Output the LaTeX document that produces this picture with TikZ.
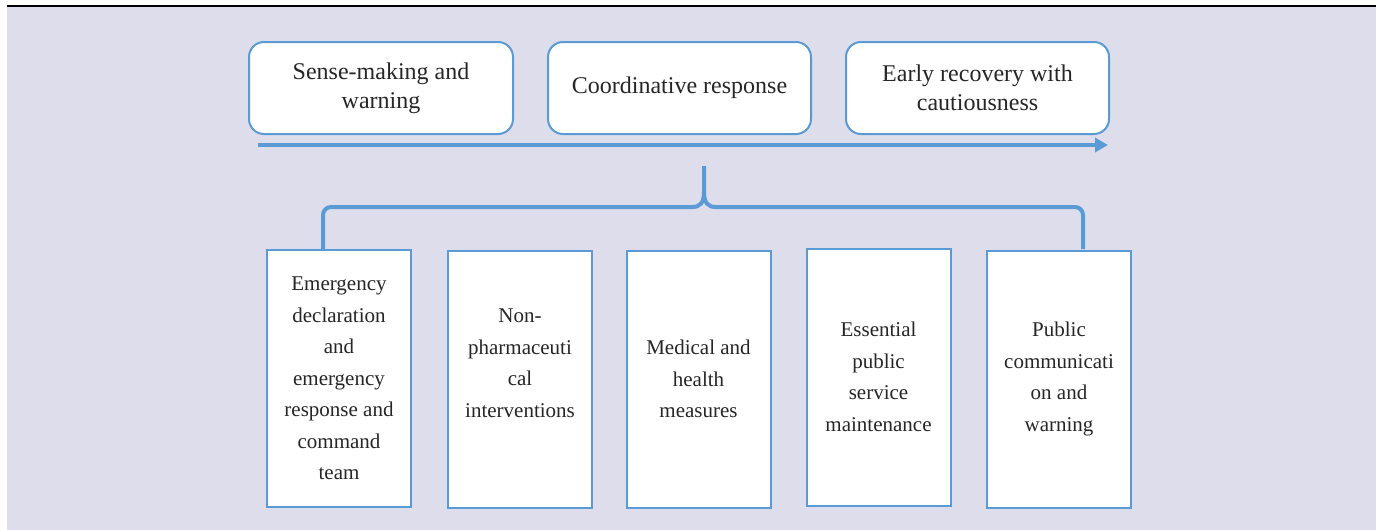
\documentclass[tikz,border=0pt]{standalone}
\usepackage{fontspec}
\setmainfont{Liberation Serif}
\usetikzlibrary{arrows.meta}
\definecolor{bg}{HTML}{DDDDEB}
\definecolor{bl}{HTML}{5B9BD5}
\definecolor{tx}{HTML}{262626}
\tikzset{
  topbox/.style={draw=bl, line width=2pt, fill=white, rounded corners=15pt, minimum height=92pt, inner sep=0pt, align=center, text=tx, font=\fontsize{24}{29}\selectfont},
  botbox/.style={draw=bl, line width=2pt, fill=white, minimum width=144pt, minimum height=257pt, inner sep=0pt, align=center, text=tx, font=\fontsize{21}{31.5}\selectfont},
  thickblue/.style={draw=bl, line width=4pt},
}
\begin{document}
\begin{tikzpicture}[x=1pt,y=-1pt]
\useasboundingbox (0,0) rectangle (1376,530);
\fill[bg] (7,7) rectangle (1376,530);
\draw[line width=2pt] (7,6) -- (1376,6);

\node[topbox, minimum width=264pt] (t1) at (381,88) {Sense-making and\\warning};
\node[topbox, minimum width=263pt] (t2) at (679.5,88) {Coordinative response};
\node[topbox, minimum width=263pt] (t3) at (977.5,88) {Early recovery with\\cautiousness};

\coordinate (as) at (258,145);
\coordinate (ae) at (1108,145);
\draw[thickblue, -{Triangle[length=13pt,width=14pt]}] (as) -- (ae);

\node[botbox] (b1) at (339,378.5) {Emergency\\declaration\\and\\emergency\\response and\\command\\team};
\node[botbox] (b2) at (520,379) {Non-\\pharmaceuti\\cal\\interventions\\\mbox{}};
\node[botbox] (b3) at (698.5,379) {Medical and\\health\\measures};
\node[botbox] (b4) at (878.5,377) {Essential\\public\\service\\maintenance};
\node[botbox] (b5) at (1059,379) {Public\\communicati\\on and\\warning};

\coordinate (bt) at (704,166);
\coordinate (fl) at (323,249);
\coordinate (fr) at (1083,249);
\draw[thickblue, rounded corners=8pt] (fl) -- (323,207) -- (692,207);
\draw[thickblue] (692,207) .. controls (700,207) and (704,203) .. (704,192) -- (bt);
\draw[thickblue, rounded corners=8pt] (fr) -- (1083,207) -- (716,207);
\draw[thickblue] (716,207) .. controls (708,207) and (704,203) .. (704,192);
\end{tikzpicture}
\end{document}
